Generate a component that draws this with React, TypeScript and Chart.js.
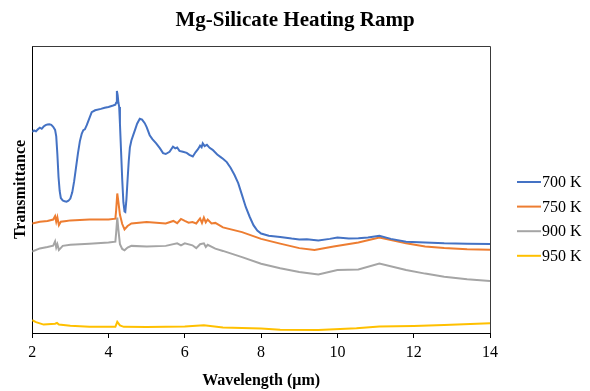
import React, { useEffect, useRef } from "react";
import { Chart, registerables } from "chart.js";

Chart.register(...registerables);

const TITLE = "Mg-Silicate Heating Ramp";
const X_TITLE = "Wavelength (μm)";
const Y_TITLE = "Transmittance";
const SERIES_LABELS = ["700 K", "750 K", "900 K", "950 K"];
const SERIES_COLORS = ["#4472C4", "#ED7D31", "#A5A5A5", "#FFC000"];
const X_TICKS = [2, 4, 6, 8, 10, 12, 14];

const wl700 = [
  2.0, 2.05, 2.1, 2.15, 2.2, 2.25, 2.3, 2.35, 2.4, 2.45, 2.5, 2.55, 2.6, 2.63, 2.66, 2.69, 2.72, 2.75, 2.8, 2.85,
  2.9, 2.95, 3.0, 3.05, 3.1, 3.15, 3.2, 3.25, 3.3, 3.34, 3.38, 3.43, 3.5, 3.56, 3.65, 3.8, 3.9, 4.0, 4.12, 4.18,
  4.2, 4.22, 4.24, 4.26, 4.28, 4.3, 4.33, 4.36, 4.39, 4.42, 4.44, 4.47, 4.5, 4.53, 4.56, 4.6, 4.65, 4.7, 4.75, 4.82,
  4.88, 4.95, 5.0, 5.08, 5.15, 5.25, 5.35, 5.43, 5.5, 5.6, 5.69, 5.75, 5.8, 5.86, 5.95, 6.05, 6.12, 6.21, 6.28, 6.35,
  6.4, 6.44, 6.47, 6.52, 6.58, 6.65, 6.73, 6.85, 6.95, 7.0, 7.1, 7.2, 7.3, 7.4, 7.5, 7.6, 7.7, 7.8, 7.9, 8.0,
  8.2, 8.5, 8.8, 9.0, 9.2, 9.5, 9.8, 10.0, 10.3, 10.55, 10.8, 11.1, 11.4, 11.8, 12.3, 12.8, 13.4, 14.0,
];
const t700 = [
  71.1, 71.6, 71.3, 72.0, 72.6, 72.2, 73.0, 73.5, 73.7, 73.8, 73.6, 72.9, 71.8, 69.5, 63.0, 55.0, 50.0, 47.5, 46.6, 46.3,
  46.2, 46.5, 47.3, 49.5, 53.5, 58.5, 63.5, 67.8, 70.5, 71.7, 72.0, 73.5, 76.0, 78.1, 78.8, 79.3, 79.7, 80.0, 80.5, 80.8,
  81.5, 85.7, 84.2, 81.5, 80.0, 74.0, 64.0, 54.0, 46.0, 42.7, 42.5, 47.0, 54.0, 60.5, 65.5, 68.0, 70.0, 72.0, 74.0, 75.8,
  75.5, 74.2, 72.8, 69.9, 68.5, 67.0, 65.2, 63.5, 63.2, 64.0, 65.8, 65.2, 65.5, 64.3, 64.0, 63.6, 62.9, 62.3, 63.8, 65.0,
  66.2, 65.6, 67.0, 66.0, 66.5, 65.4, 64.7, 63.0, 62.0, 61.5, 60.3, 58.3, 55.8, 52.8, 48.5, 44.2, 40.8, 37.8, 35.9, 34.8,
  34.0, 33.6, 33.0, 32.7, 32.8, 32.3, 32.9, 33.4, 33.0, 33.1, 33.4, 34.0, 32.9, 31.9, 31.6, 31.3, 31.2, 31.1,
];

const wl750 = [
  2.0, 2.2, 2.4, 2.55, 2.6, 2.63, 2.66, 2.7, 2.75, 2.9, 3.0, 3.5, 4.0, 4.18, 4.2, 4.23, 4.26, 4.3, 4.36, 4.42,
  4.5, 4.6, 5.0, 5.5, 5.7, 5.8, 5.9, 6.0, 6.1, 6.2, 6.3, 6.4, 6.45, 6.5, 6.55, 6.6, 6.7, 6.8, 7.0, 7.5,
  8.0, 8.5, 9.0, 9.4, 9.9, 10.55, 11.1, 11.8, 12.3, 12.8, 13.4, 14.0,
];
const t750 = [
  38.4, 39.0, 39.3, 39.8, 41.0, 39.0, 40.6, 37.8, 39.0, 39.3, 39.5, 39.8, 39.8, 40.1, 43.0, 49.1, 46.0, 41.5, 38.2, 36.3,
  37.5, 38.4, 38.9, 38.4, 39.3, 38.5, 40.0, 39.3, 38.7, 38.9, 38.4, 40.2, 38.6, 40.5, 38.8, 39.8, 38.4, 38.6, 37.0, 35.3,
  32.9, 31.2, 29.6, 28.9, 30.2, 31.6, 33.4, 31.3, 30.2, 29.6, 29.2, 29.0,
];

const wl900 = [
  2.0, 2.2, 2.4, 2.55, 2.6, 2.63, 2.66, 2.7, 2.8, 3.0, 3.5, 4.0, 4.18, 4.2, 4.23, 4.26, 4.3, 4.36, 4.42, 4.5,
  4.6, 5.0, 5.5, 5.8, 5.9, 6.0, 6.2, 6.3, 6.4, 6.5, 6.55, 6.6, 6.8, 7.0, 7.5, 8.0, 8.5, 9.0, 9.5, 10.0,
  10.55, 11.1, 11.8, 12.3, 12.8, 13.4, 14.0,
];
const t900 = [
  28.4, 29.5, 30.0, 30.5, 32.0, 29.8, 31.0, 28.9, 30.4, 30.8, 31.2, 31.6, 31.9, 35.0, 40.5, 36.0, 31.0, 29.3, 28.8, 29.8,
  30.4, 30.2, 30.4, 31.3, 30.6, 31.3, 30.6, 29.6, 31.0, 31.3, 30.0, 30.8, 29.4, 28.6, 26.4, 24.0, 22.4, 21.1, 20.2, 21.8,
  22.0, 24.1, 21.8, 20.5, 19.4, 18.5, 17.9,
];

const wl950 = [
  2.0, 2.1, 2.3, 2.6, 2.65, 2.7, 3.0, 3.5, 4.18, 4.23, 4.3, 4.4, 5.0, 6.0, 6.5, 7.0, 8.0, 8.5, 9.5, 10.5,
  11.1, 12.0, 12.8, 14.0,
];
const t950 = [
  3.9, 3.2, 2.3, 2.6, 2.9, 2.3, 1.9, 1.5, 1.5, 3.3, 2.0, 1.5, 1.4, 1.6, 2.1, 1.3, 0.9, 0.5, 0.4, 1.0,
  1.6, 1.8, 2.2, 2.8,
];

const WAVELENGTHS = [wl700, wl750, wl900, wl950];
const VALUES = [t700, t750, t900, t950];

const SERIF = "'Liberation Serif', 'Times New Roman', serif";

const titlePlugin = {
  id: "centerTitle",
  afterDraw(chart: any) {
    const { ctx, width } = chart;
    ctx.save();
    ctx.font = `bold 21px ${SERIF}`;
    ctx.fillStyle = "#000";
    ctx.textAlign = "center";
    ctx.textBaseline = "middle";
    ctx.fillText(TITLE, width / 2, 21);
    ctx.restore();
  },
};

const boxPlugin = {
  id: "plotBox",
  afterDatasetsDraw(chart: any) {
    const { ctx, chartArea } = chart;
    ctx.save();
    ctx.strokeStyle = "#3a3a3a";
    ctx.lineWidth = 1;
    ctx.beginPath();
    ctx.moveTo(chartArea.left, chartArea.top + 0.5);
    ctx.lineTo(chartArea.right + 0.5, chartArea.top + 0.5);
    ctx.lineTo(chartArea.right + 0.5, chartArea.bottom);
    ctx.stroke();
    ctx.restore();
  },
};

const sideLegend = {
  id: "sideLegend",
  afterDraw(chart: any) {
    const { ctx } = chart;
    ctx.save();
    ctx.font = `16px ${SERIF}`;
    ctx.textBaseline = "middle";
    ctx.textAlign = "left";
    chart.data.datasets.forEach((ds: any, i: number) => {
      const y = 182 + i * 24.6;
      ctx.strokeStyle = ds.borderColor;
      ctx.lineWidth = 2;
      ctx.beginPath();
      ctx.moveTo(517, y);
      ctx.lineTo(541, y);
      ctx.stroke();
      ctx.fillStyle = "#000";
      ctx.fillText(ds.label, 542, y + 1);
    });
    ctx.restore();
  },
};

export default function App() {
  const canvasRef = useRef<HTMLCanvasElement | null>(null);

  useEffect(() => {
    if (!canvasRef.current) return;
    const datasets = SERIES_LABELS.map((label, i) => ({
      label,
      data: WAVELENGTHS[i].map((x, j) => ({ x, y: VALUES[i][j] })),
      borderColor: SERIES_COLORS[i],
      backgroundColor: SERIES_COLORS[i],
      borderWidth: 2,
      pointRadius: 0,
      tension: 0,
      fill: false,
    }));
    const chart = new Chart(canvasRef.current, {
      type: "line",
      data: { datasets },
      plugins: [boxPlugin, sideLegend, titlePlugin],
      options: {
        animation: false,
        responsive: false,
        maintainAspectRatio: false,
        layout: { padding: { left: 8, right: 100, top: 46, bottom: 0 } },
        plugins: {
          legend: { display: false },
          tooltip: { enabled: false },
          title: { display: false },
        },
        scales: {
          x: {
            type: "linear",
            min: 2,
            max: 14,
            afterBuildTicks: (scale: any) => {
              scale.ticks = X_TICKS.map((v) => ({ value: v }));
            },
            ticks: {
              color: "#000",
              font: { family: SERIF, size: 16 },
              padding: 5,
              maxRotation: 0,
            },
            grid: {
              display: true,
              drawOnChartArea: false,
              drawTicks: true,
              tickLength: 5,
              color: "#000",
            },
            border: { display: true, color: "#000", width: 1 },
            title: {
              display: true,
              text: X_TITLE,
              color: "#000",
              font: { family: SERIF, size: 16, weight: "bold" },
              padding: { top: 3.6, bottom: 1 },
            },
          },
          y: {
            type: "linear",
            min: -0.7,
            max: 101.75,
            ticks: { display: false },
            grid: { display: false, drawTicks: false },
            border: { display: true, color: "#000", width: 1 },
            title: {
              display: true,
              text: Y_TITLE,
              color: "#000",
              font: { family: SERIF, size: 16, weight: "bold" },
              padding: { top: 3, bottom: 2 },
            },
          },
        },
      },
    });
    return () => chart.destroy();
  }, []);

  return (
    <div style={{ position: "fixed", left: 0, top: 0, width: 590, height: 391, background: "#fff" }}>
      <canvas ref={canvasRef} width={590} height={391} style={{ width: 590, height: 391, display: "block" }} />
    </div>
  );
}
